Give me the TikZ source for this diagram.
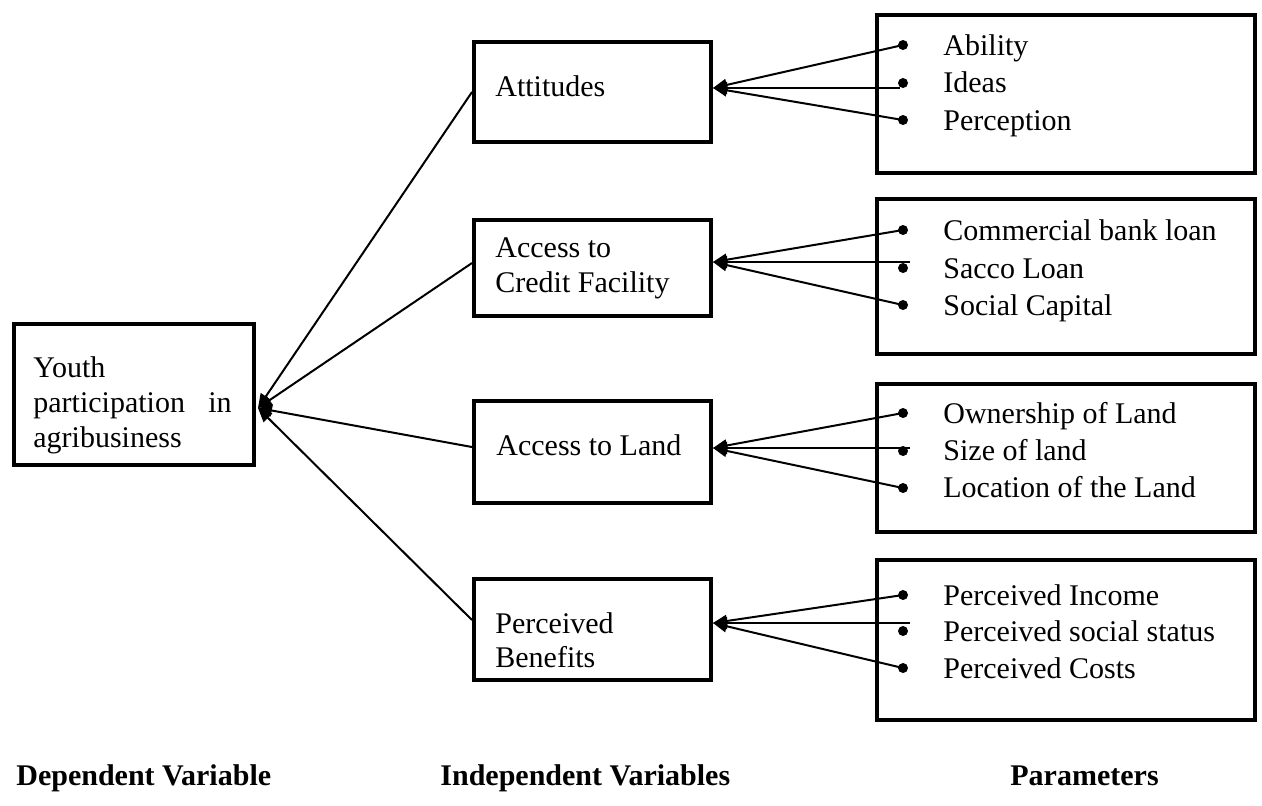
\documentclass[tikz,border=0pt]{standalone}
\usepackage{fontspec}
\setmainfont{Liberation Serif}
\usetikzlibrary{arrows.meta}
\begin{document}
\begin{tikzpicture}[x=0.5pt,y=-0.5pt,
  every node/.style={font=\fontsize{15pt}{18.5pt}\selectfont},
  box/.style={draw, line width=2pt, rectangle, inner sep=0pt},
  txt/.style={anchor=base west, inner sep=0pt},
  lbl/.style={anchor=base west, inner sep=0pt, font=\fontsize{15pt}{18.5pt}\selectfont\bfseries},
  dot/.style={circle, fill=black, inner sep=0pt, minimum size=5pt},
  conn/.style={line width=1pt},
  arr/.style={line width=1pt, -{Triangle[length=7pt, width=6pt]}}
]
\useasboundingbox (0,0) rectangle (1262,805);

% dependent variable box
\node[box, minimum width=120pt, minimum height=70.5pt] (dep) at (134,394.5) {};
\node[txt] (depA) at (33,377) {Youth};
\node[txt] (depB) at (33,412) {participation};
\node[anchor=base east, inner sep=0pt] (depC) at (232,412) {in};
\node[txt] (depD) at (33,447) {agribusiness};
\coordinate (hub) at (258,408);

% independent variable boxes
\node[box, minimum width=118.5pt, minimum height=50pt] (att) at (592.5,92) {};
\node[txt] (attT) at (495,96) {Attitudes};
\node[box, minimum width=118.5pt, minimum height=48pt] (cr) at (592.5,268) {};
\node[txt] (crT1) at (495,257) {Access to};
\node[txt] (crT2) at (495,292) {Credit Facility};
\node[box, minimum width=118.5pt, minimum height=51pt] (land) at (592.5,452) {};
\node[txt] (landT) at (496,455) {Access to Land};
\node[box, minimum width=118.5pt, minimum height=50.5pt] (ben) at (592.5,629.5) {};
\node[txt] (benT1) at (495,633) {Perceived};
\node[txt] (benT2) at (495,667) {Benefits};

% parameter boxes
\node[box, minimum width=189pt, minimum height=79pt] (patt) at (1066,94) {};
\node[box, minimum width=189pt, minimum height=77.5pt] (pcr) at (1066,276.5) {};
\node[box, minimum width=189pt, minimum height=74pt] (pland) at (1066,458) {};
\node[box, minimum width=189pt, minimum height=80pt] (pben) at (1066,640) {};

% parameter items
\node[dot] (a1) at (903,45) {};  \node[txt] at (943,55) {Ability};
\node[dot] (a2) at (903,83) {};  \node[txt] at (943,92) {Ideas};
\node[dot] (a3) at (903,120) {}; \node[txt] at (943,130) {Perception};
\coordinate (a2e) at (900,88);

\node[dot] (c1) at (903,230) {}; \node[txt] at (943,240) {Commercial bank loan};
\node[dot] (c2) at (903,268) {}; \node[txt] at (943,278) {Sacco Loan};
\node[dot] (c3) at (903,305) {}; \node[txt] at (943,315) {Social Capital};
\coordinate (c2e) at (910,262);

\node[dot] (l1) at (903,413) {}; \node[txt] at (943,423) {Ownership of Land};
\node[dot] (l2) at (903,451) {}; \node[txt] at (943,460) {Size of land};
\node[dot] (l3) at (903,488) {}; \node[txt] at (943,497) {Location of the Land};
\coordinate (l2e) at (910,448);

\node[dot] (b1) at (903,595) {}; \node[txt] at (943,605) {Perceived Income};
\node[dot] (b2) at (903,631) {}; \node[txt] at (943,641) {Perceived social status};
\node[dot] (b3) at (903,668) {}; \node[txt] at (943,678) {Perceived Costs};
\coordinate (b2e) at (910,623);

% arrows parameters -> independent
\draw[arr] (a1.center) -- ([yshift=2pt]att.east);
\draw[arr] (a2e) -- ([yshift=2pt]att.east);
\draw[arr] (a3.center) -- ([yshift=2pt]att.east);
\draw[arr] (c1.center) -- ([yshift=3pt]cr.east);
\draw[arr] (c2e) -- ([yshift=3pt]cr.east);
\draw[arr] (c3.center) -- ([yshift=3pt]cr.east);
\draw[arr] (l1.center) -- ([yshift=2pt]land.east);
\draw[arr] (l2e) -- ([yshift=2pt]land.east);
\draw[arr] (l3.center) -- ([yshift=2pt]land.east);
\draw[arr] (b1.center) -- ([yshift=3.25pt]ben.east);
\draw[arr] (b2e) -- ([yshift=3.25pt]ben.east);
\draw[arr] (b3.center) -- ([yshift=3.25pt]ben.east);

% arrows independent -> dependent
\draw[arr] (att.west) -- (hub);
\draw[arr] ([yshift=2.5pt]cr.west) -- (hub);
\draw[arr] ([yshift=2.5pt]land.west) -- (hub);
\draw[arr] ([yshift=4.75pt]ben.west) -- (hub);

% bottom labels
\node[lbl] (l1lbl) at (16,785) {Dependent Variable};
\node[lbl] (l2lbl) at (440,785) {Independent Variables};
\node[lbl] (l3lbl) at (1010,785) {Parameters};
\end{tikzpicture}
\end{document}
